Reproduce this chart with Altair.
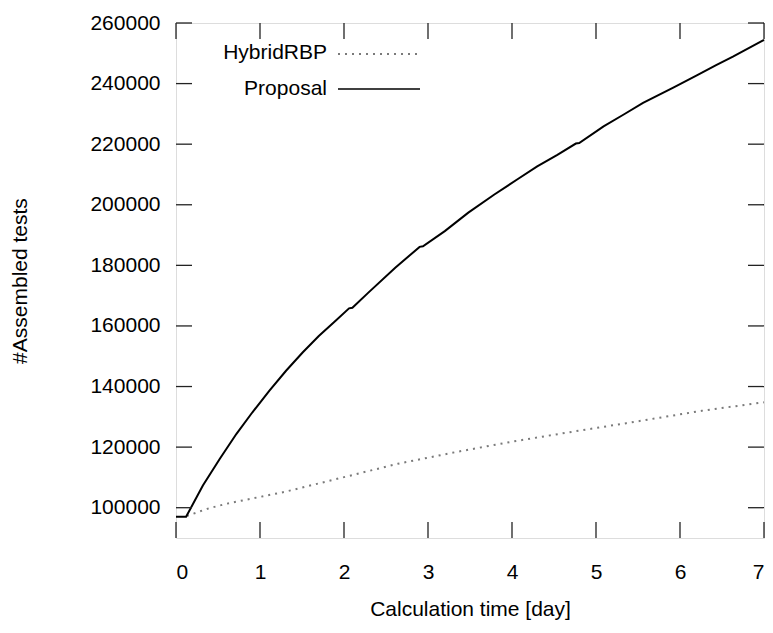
import altair as alt
import pandas as pd

# ---- data ----
proposal_day = [0.0, 0.12, 0.32, 0.52, 0.72, 0.91, 1.11, 1.31, 1.51, 1.70, 1.90,
                2.06, 2.10, 2.29, 2.61, 2.90, 2.94, 3.20, 3.48, 3.79, 4.07, 4.30,
                4.54, 4.76, 4.80, 5.09, 5.33, 5.56, 5.92, 6.20, 6.43, 6.63, 7.0]
proposal_val = [97000, 97000, 107300, 116100, 124400, 131500, 138600, 145200,
                151300, 156700, 161700, 165800, 166000, 171000, 179200, 186100,
                186300, 191300, 197400, 203400, 208500, 212700, 216500, 220200,
                220400, 225900, 229800, 233600, 238700, 242700, 246100, 248900,
                254400]

hybrid_day = [0.13, 0.38, 0.60, 0.83, 1.29, 2.64, 3.32, 4.00, 4.68, 5.36, 6.26, 7.0]
hybrid_val = [97300, 99700, 101300, 102600, 105200, 114500, 118300, 121800,
              124900, 127900, 132000, 134800]

x_ticks = [0, 1, 2, 3, 4, 5, 6, 7]
y_ticks = [100000, 120000, 140000, 160000, 180000, 200000, 220000, 240000, 260000]

series_names = ["HybridRBP", "Proposal"]

W, H = 588, 515
FONT = "Liberation Sans"
FS = 21

df_p = pd.DataFrame({"day": proposal_day, "val": proposal_val})
df_h = pd.DataFrame({"day": hybrid_day, "val": hybrid_val})
df_xt = pd.DataFrame({"t": x_ticks})
df_yt = pd.DataFrame({"t": y_ticks})

xs = alt.Scale(domain=[0, 7], nice=False)
ys = alt.Scale(domain=[90000, 260000], nice=False)

x_enc = alt.X("day:Q", scale=xs, axis=alt.Axis(
    title="Calculation time [day]", values=x_ticks, format="d",
    domain=False, ticks=False, grid=False, labelPadding=23, titlePadding=16,
    labelFontSize=FS, titleFontSize=FS, labelFont=FONT, titleFont=FONT,
    labelColor="black", titleColor="black", titleFontWeight="normal"))
y_enc = alt.Y("val:Q", scale=ys, axis=alt.Axis(
    title="#Assembled tests", values=y_ticks, format="d",
    domain=False, ticks=False, grid=False, labelPadding=16, titlePadding=59,
    labelFontSize=FS, titleFontSize=FS, labelFont=FONT, titleFont=FONT,
    labelColor="black", titleColor="black", titleFontWeight="normal"))

DOT = "#7a7a7a"
hyb = alt.Chart(df_h).mark_line(color=DOT, strokeWidth=2,
                                strokeDash=[2, 5]).encode(x=x_enc, y=y_enc)
prop = alt.Chart(df_p).mark_line(color="black", strokeWidth=2).encode(
    x=alt.X("day:Q", scale=xs), y=alt.Y("val:Q", scale=ys))

tick_color = "#222222"
tb = alt.Chart(df_xt).mark_rule(color=tick_color, strokeWidth=1.3).encode(
    x=alt.X("t:Q", scale=xs), y=alt.value(H), y2=alt.value(H - 16))
tt = alt.Chart(df_xt).mark_rule(color=tick_color, strokeWidth=1.3).encode(
    x=alt.X("t:Q", scale=xs), y=alt.value(0), y2=alt.value(16))
tl = alt.Chart(df_yt).mark_rule(color=tick_color, strokeWidth=1.3).encode(
    y=alt.Y("t:Q", scale=ys), x=alt.value(0), x2=alt.value(16))
tr = alt.Chart(df_yt).mark_rule(color=tick_color, strokeWidth=1.3).encode(
    y=alt.Y("t:Q", scale=ys), x=alt.value(W), x2=alt.value(W - 16))

# legend (gnuplot style: label left of sample)
leg_h_text = alt.Chart(pd.DataFrame({"s": [series_names[0]]})).mark_text(
    align="right", baseline="middle", font=FONT, fontSize=FS, color="black").encode(
    text="s:N", x=alt.value(151), y=alt.value(30))
leg_p_text = alt.Chart(pd.DataFrame({"s": [series_names[1]]})).mark_text(
    align="right", baseline="middle", font=FONT, fontSize=FS, color="black").encode(
    text="s:N", x=alt.value(151), y=alt.value(66))
leg_h_line = alt.Chart(pd.DataFrame({"s": [series_names[0]]})).mark_rule(
    color=DOT, strokeWidth=2, strokeDash=[2, 5]).encode(
    x=alt.value(162), x2=alt.value(244), y=alt.value(31))
leg_p_line = alt.Chart(pd.DataFrame({"s": [series_names[1]]})).mark_rule(
    color="black", strokeWidth=1.5).encode(
    x=alt.value(162), x2=alt.value(244), y=alt.value(66))

chart = alt.layer(hyb, prop, tb, tt, tl, tr, leg_h_text, leg_p_text,
                  leg_h_line, leg_p_line).properties(
    width=W, height=H,
    autosize=alt.AutoSizeParams(type="none"),
    padding={"left": 168, "top": 15, "right": 1, "bottom": 84},
).configure_view(stroke="black", strokeWidth=1.5).configure(background="white")

chart.save("out.html", embed_options={"renderer": "svg", "actions": False})
